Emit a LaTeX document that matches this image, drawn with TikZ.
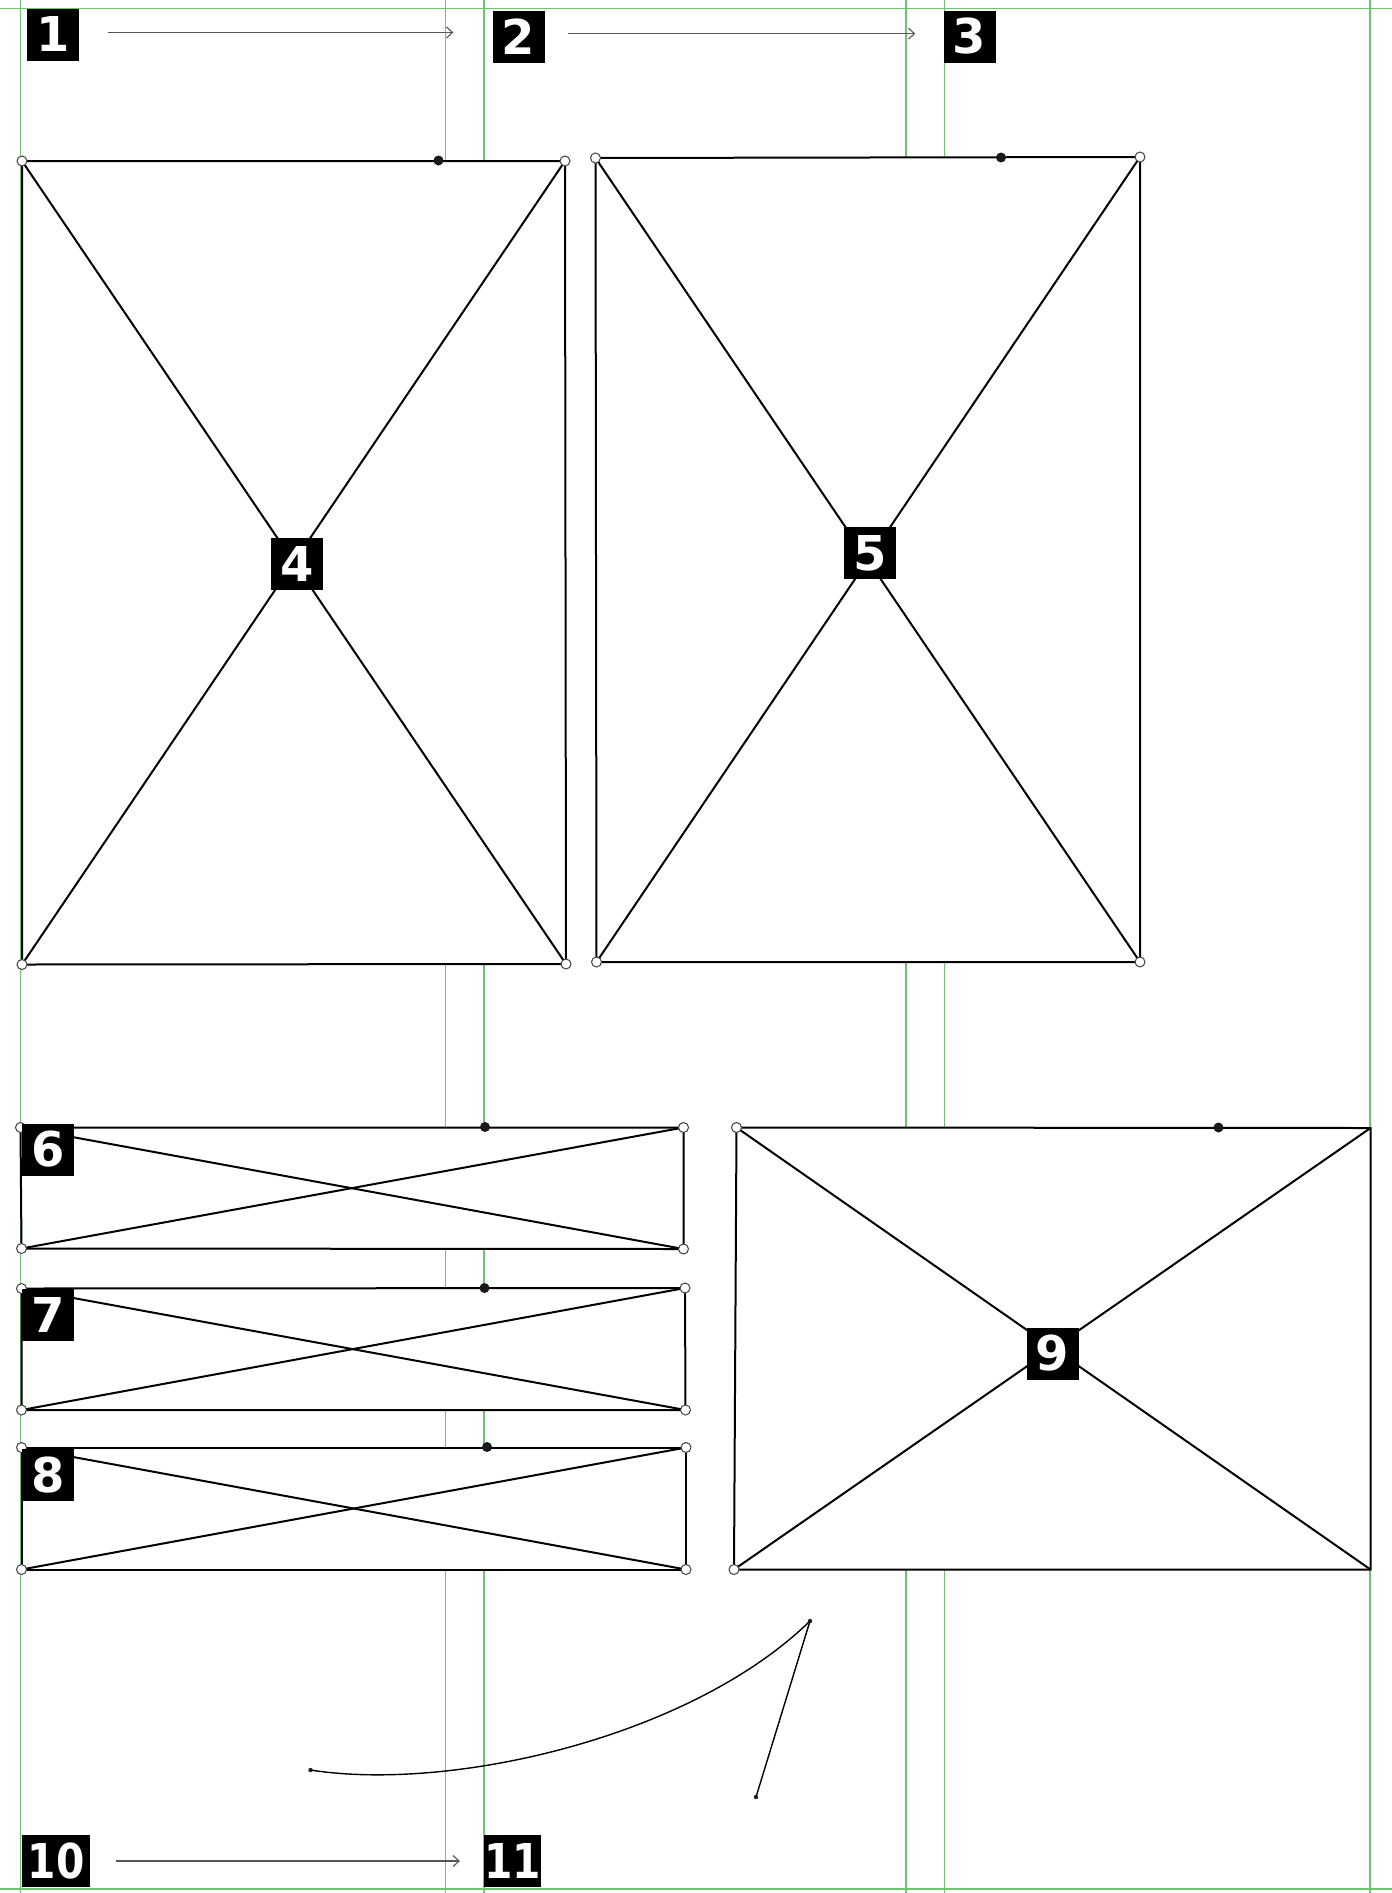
\documentclass[tikz,border=0pt]{standalone}
\usepackage{fontspec}
\newfontfamily\labfont{DejaVu Sans}
\usetikzlibrary{arrows.meta}
\definecolor{guidegreen}{RGB}{112,196,112}
\definecolor{arrgray}{RGB}{85,85,85}
\tikzset{
  guide/.style={draw=guidegreen, line width=1.6pt},
  frame/.style={draw=black, fill=white, line width=2pt, line join=miter},
  diag/.style={draw=black, line width=2pt},
  handle/.style={circle, draw=black!75, fill=white, line width=1pt, minimum size=10pt, inner sep=0pt},
  anchordot/.style={circle, fill=black!90, minimum size=10pt, inner sep=0pt},
  enddot/.style={circle, fill=black!85, minimum size=4.5pt, inner sep=0pt},
  numlabel/.style={fill=black, text=white, font=\labfont\bfseries\fontsize{48}{48}\selectfont, minimum width=52pt, minimum height=52pt, inner sep=0pt},
  arr/.style={draw=arrgray, line width=1.2pt, -{Straight Barb[length=6pt,width=11pt,line width=1.1pt]}},
  curveline/.style={draw=black, line width=1.4pt}
}
\newcommand{\frameX}[5]{%
  % #1 name, #2 TL, #3 TR, #4 BR, #5 BL
  \coordinate (#1tl) at #2; \coordinate (#1tr) at #3;
  \coordinate (#1br) at #4; \coordinate (#1bl) at #5;
  \path[frame] (#1tl) -- (#1tr) -- (#1br) -- (#1bl) -- cycle;
  \draw[diag] (#1tl) -- (#1br);
  \draw[diag] (#1tr) -- (#1bl);
}
\begin{document}
\begin{tikzpicture}[x=1pt,y=-1pt]
\useasboundingbox[fill=white] (0,0) rectangle (1392,1893);
% guides
\foreach \gx in {20.5,445.5,484,906,944.5,1370}{\draw[guide] (\gx,0) -- (\gx,1893);}
\draw[guide] (0,8.6) -- (1392,8.6);
\draw[guide] (0,1889) -- (1392,1889);

% frames
\frameX{r4}{(22,161)}{(565,161)}{(566,964)}{(22,964.5)}
\frameX{r5}{(595.5,158)}{(1140,157)}{(1140,962)}{(596.5,962)}
\frameX{r6}{(20.5,1127.5)}{(683.5,1127.5)}{(683.5,1249)}{(21.5,1248.5)}
\frameX{r7}{(21.5,1288.5)}{(685,1288)}{(685.5,1410)}{(21.5,1410)}
\frameX{r8}{(21.5,1447.5)}{(686,1447.5)}{(686,1569.5)}{(21.5,1569.5)}
\frameX{r9}{(736.5,1127.5)}{(1370.5,1128)}{(1370.5,1569.5)}{(734,1569.5)}

% corner handles
\foreach \r in {r4,r5,r6,r7,r8}{
  \foreach \c in {tl,tr,br,bl}{\node[handle] (h\r\c) at (\r\c) {};}
}
\node[handle] (hr9tl) at (r9tl) {};
\node[handle] (hr9bl) at (r9bl) {};

% top-edge anchor dots
\node[anchordot] (d4) at (438.5,160.5) {};
\node[anchordot] (d5) at (1001,157.5) {};
\node[anchordot] (d6) at (485,1127) {};
\node[anchordot] (d7) at (484.5,1288) {};
\node[anchordot] (d8) at (487,1447) {};
\node[anchordot] (d9) at (1218.5,1127.5) {};

% free curve and line
\node[enddot] (c0) at (310.5,1770) {};
\node[enddot] (c1) at (810,1621) {};
\node[enddot] (c2) at (756,1797) {};
\draw[curveline] (c0.center) .. controls (450,1792) and (690,1738) .. (c1.center);
\draw[curveline] (c1.center) -- (c2.center);

% labels
\node[numlabel] (l1) at (53,34.5) {1};
\node[numlabel] (l2) at (518.5,36.5) {2};
\node[numlabel] (l3) at (969.5,36.5) {3};
\node[numlabel] (l4) at (297,563.5) {4};
\node[numlabel] (l5) at (870,553) {5};
\node[numlabel] (l6) at (48,1149.5) {6};
\node[numlabel] (l7) at (48,1315) {7};
\node[numlabel] (l8) at (48,1475) {8};
\node[numlabel] (l9) at (1052.5,1353.5) {9};
\node[numlabel, minimum width=68pt] (l10) at (56,1861) {\scalebox{0.85}[1]{10}};
\node[numlabel] (l11) at (512.5,1860.5) {\scalebox{0.85}[1]{11}};

% arrows
\draw[arr, shorten <=28.5pt, shorten >=39pt] ([yshift=2pt]l1.east) -- ([yshift=2pt]l1.east -| l2.west);
\draw[arr, shorten <=23.5pt, shorten >=28pt] ([yshift=2.8pt]l2.east) -- ([yshift=2.8pt]l2.east -| l3.west);
\draw[arr, shorten <=26pt, shorten >=24pt] (l10.east) -- (l10.east -| l11.west);
\end{tikzpicture}
\end{document}
